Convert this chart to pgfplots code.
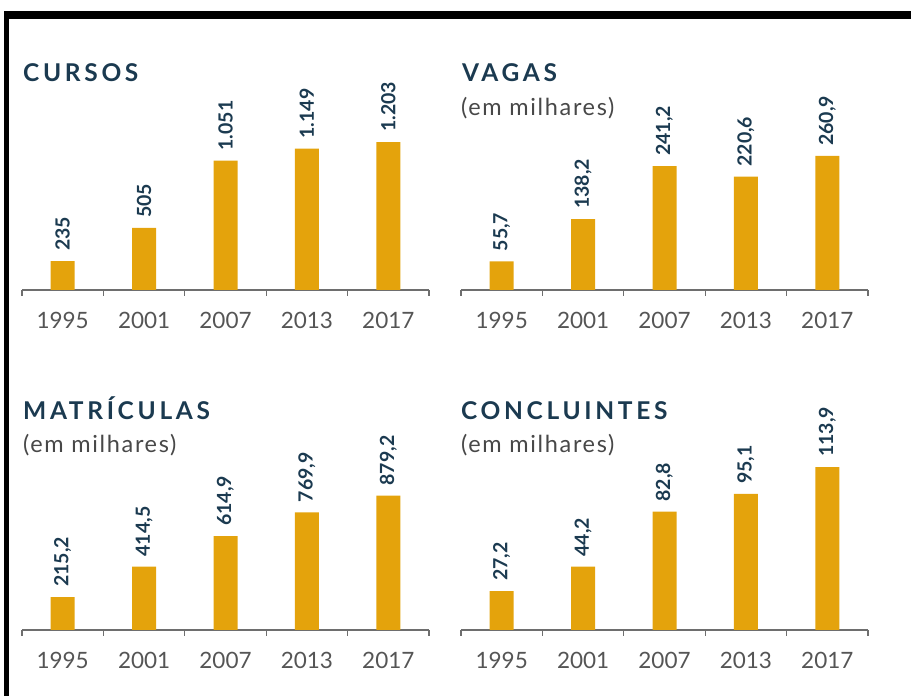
\documentclass[border=0pt]{standalone}
\usepackage{fontspec}
\setmainfont{Lato}
\newfontfamily\titlefont[LetterSpace=15]{Lato}
\newfontfamily\subfont[LetterSpace=7]{Lato}
\usepackage{pgfplots}
\pgfplotsset{compat=1.18}

\definecolor{barcol}{HTML}{E4A30C}
\definecolor{navy}{HTML}{1B3A50}
\definecolor{tickgray}{HTML}{555555}
\definecolor{axgray}{HTML}{6E6E6E}

\pgfplotsset{
  panel/.style={
    ybar, bar width=24pt, bar shift=0pt,
    x=81.4pt, xmin=0, xmax=5, ymin=0,
    clip=false, anchor=south west,
    axis x line*=bottom, axis y line=none,
    x axis line style={draw=axgray, line width=1.6pt},
    xtick={0.5,1.5,2.5,3.5,4.5},
    xticklabels={1995,2001,2007,2013,2017},
    major tick length=0pt,
    minor xtick={0,1,2,3,4,5},
    minor tick length=6pt, xtick align=outside,
    minor tick style={draw=axgray, line width=1.2pt},
    ytick=\empty,
    xticklabel style={font=\fontsize{22.5}{22.5}\selectfont, text=tickgray,
      anchor=base, inner sep=0pt, yshift=-39pt},
    point meta=explicit symbolic,
    nodes near coords,
    nodes near coords style={rotate=90, anchor=west, inner xsep=10pt, inner ysep=0pt,
      font=\bfseries\fontsize{19.5}{19.5}\selectfont, text=navy},
    every axis plot post/.style={fill=barcol, draw=none},
  },
}

\begin{document}
\begin{tikzpicture}
\useasboundingbox (0,0) rectangle (911pt,696pt);
\fill[black] (4pt,677pt) rectangle (911pt,685pt);
\fill[black] (4pt,0pt) rectangle (9pt,685pt);

% CURSOS
\begin{axis}[panel, at={(22pt,406pt)}, y=0.1230pt, ymax=1400]
\addplot coordinates {(0.5,235) [235] (1.5,505) [505] (2.5,1051) [1.051] (3.5,1149) [1.149] (4.5,1203) [1.203]};
\end{axis}

% VAGAS
\begin{axis}[panel, at={(461pt,406pt)}, y=0.5136pt, ymax=330]
\addplot coordinates {(0.5,55.7) [{55,7}] (1.5,138.2) [{138,2}] (2.5,241.2) [{241,2}] (3.5,220.6) [{220,6}] (4.5,260.9) [{260,9}]};
\end{axis}

% MATRICULAS
\begin{axis}[panel, at={(22pt,66pt)}, y=0.1528pt, ymax=1100]
\addplot coordinates {(0.5,215.2) [{215,2}] (1.5,414.5) [{414,5}] (2.5,614.9) [{614,9}] (3.5,769.9) [{769,9}] (4.5,879.2) [{879,2}]};
\end{axis}

% CONCLUINTES
\begin{axis}[panel, at={(461pt,66pt)}, y=1.431pt, ymax=130]
\addplot coordinates {(0.5,27.2) [{27,2}] (1.5,44.2) [{44,2}] (2.5,82.8) [{82,8}] (3.5,95.1) [{95,1}] (4.5,113.9) [{113,9}]};
\end{axis}

\begin{scope}[every node/.style={anchor=base west, inner sep=0pt}]
\node[text=navy, font=\titlefont\bfseries\fontsize{24.5}{24.5}\selectfont] at (23pt,614pt) {CURSOS};
\node[text=navy, font=\titlefont\bfseries\fontsize{24.5}{24.5}\selectfont] at (462pt,614pt) {VAGAS};
\node[text=navy, font=\titlefont\bfseries\fontsize{24.5}{24.5}\selectfont] at (23pt,276pt) {MATRÍCULAS};
\node[text=navy, font=\titlefont\bfseries\fontsize{24.5}{24.5}\selectfont] at (461pt,276pt) {CONCLUINTES};
\node[text=tickgray!85!black, font=\subfont\fontsize{23.5}{23.5}\selectfont] at (461pt,580.5pt) {(em milhares)};
\node[text=tickgray!85!black, font=\subfont\fontsize{23.5}{23.5}\selectfont] at (23pt,243pt) {(em milhares)};
\node[text=tickgray!85!black, font=\subfont\fontsize{23.5}{23.5}\selectfont] at (461pt,243pt) {(em milhares)};
\end{scope}
\end{tikzpicture}
\end{document}
